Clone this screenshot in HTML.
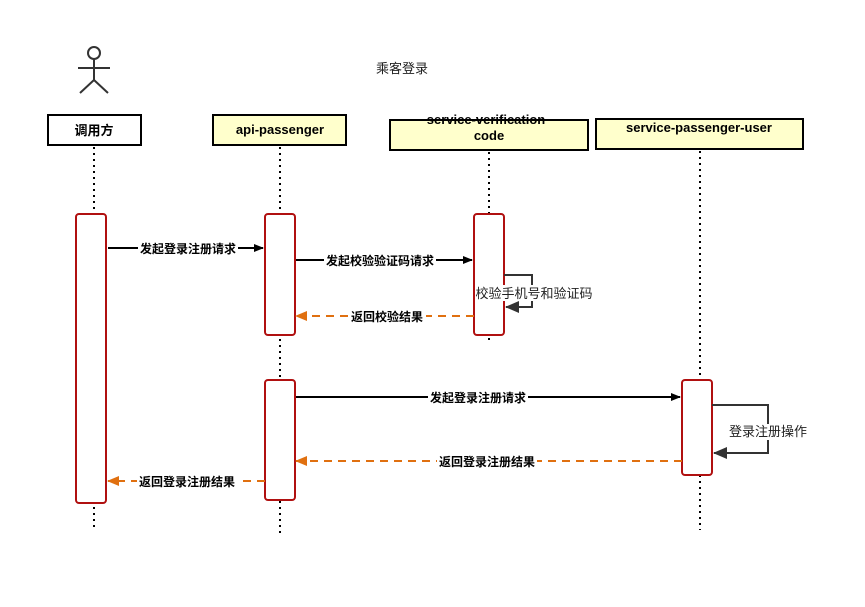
<!DOCTYPE html>
<html><head><meta charset="utf-8"><style>
body{margin:0;background:#fff}
text{font-family:"Liberation Sans","Noto Sans CJK SC",sans-serif}
</style></head><body>
<svg width="865" height="602" viewBox="0 0 865 602" xmlns="http://www.w3.org/2000/svg">
<defs>
<marker id="ab" markerWidth="10" markerHeight="8" refX="9" refY="4" orient="auto" markerUnits="userSpaceOnUse"><path d="M0,0 L10,4 L0,8 Z" fill="#000"/></marker>
<marker id="ao" markerWidth="12" markerHeight="10" refX="11" refY="5" orient="auto" markerUnits="userSpaceOnUse"><path d="M0,0 L12,5 L0,10 Z" fill="#e07010"/></marker>
<marker id="ag" markerWidth="14" markerHeight="12" refX="13" refY="6" orient="auto" markerUnits="userSpaceOnUse"><path d="M0,0 L14,6 L0,12 Z" fill="#333"/></marker>
</defs>
<text x="402" y="73" font-size="13" text-anchor="middle" fill="#222">乘客登录</text>
<g stroke="#333" stroke-width="2" fill="none">
<circle cx="94" cy="53" r="6"/>
<line x1="94" y1="59" x2="94" y2="80"/>
<line x1="78" y1="68" x2="110" y2="68"/>
<line x1="94" y1="80" x2="80" y2="93"/>
<line x1="94" y1="80" x2="108" y2="93"/>
</g>
<g stroke="#000" stroke-width="2" stroke-dasharray="2,4">
<line x1="94" y1="147" x2="94" y2="528"/>
<line x1="280" y1="147" x2="280" y2="537"/>
<line x1="489" y1="152" x2="489" y2="340"/>
<line x1="700" y1="151" x2="700" y2="530"/>
</g>
<rect x="48" y="115" width="93" height="30" fill="#fff" stroke="#000" stroke-width="2"/>
<text x="94" y="135" font-size="13" font-weight="bold" text-anchor="middle">调用方</text>
<rect x="213" y="115" width="133" height="30" fill="#ffffcc" stroke="#000" stroke-width="2"/>
<text x="280" y="134" font-size="13" font-weight="bold" text-anchor="middle">api-passenger</text>
<rect x="390" y="120" width="198" height="30" fill="#ffffcc" stroke="#000" stroke-width="2"/>
<text x="486" y="124" font-size="13" font-weight="bold" text-anchor="middle">service-verification</text>
<text x="489" y="140" font-size="13" font-weight="bold" text-anchor="middle">code</text>
<rect x="596" y="119" width="207" height="30" fill="#ffffcc" stroke="#000" stroke-width="2"/>
<text x="699" y="132" font-size="13" font-weight="bold" text-anchor="middle">service-passenger-user</text>
<g fill="#fff" stroke="#b01010" stroke-width="2">
<rect x="76" y="214" width="30" height="289" rx="3"/>
<rect x="265" y="214" width="30" height="121" rx="3"/>
<rect x="265" y="380" width="30" height="120" rx="3"/>
<rect x="474" y="214" width="30" height="121" rx="3"/>
<rect x="682" y="380" width="30" height="95" rx="3"/>
</g>
<g stroke-width="2" fill="none">
<line x1="108" y1="248" x2="263" y2="248" stroke="#000" marker-end="url(#ab)"/>
<line x1="296" y1="260" x2="472" y2="260" stroke="#000" marker-end="url(#ab)"/>
<polyline points="504,275 532,275 532,307 506,307" stroke="#333" marker-end="url(#ag)"/>
<line x1="474" y1="316" x2="296" y2="316" stroke="#e07010" stroke-dasharray="8,6" marker-end="url(#ao)"/>
<line x1="296" y1="397" x2="680" y2="397" stroke="#000" marker-end="url(#ab)"/>
<polyline points="712,405 768,405 768,453 714,453" stroke="#333" marker-end="url(#ag)"/>
<line x1="682" y1="461" x2="296" y2="461" stroke="#e07010" stroke-dasharray="8,6" marker-end="url(#ao)"/>
<line x1="265" y1="481" x2="108" y2="481" stroke="#e07010" stroke-dasharray="8,6" marker-end="url(#ao)"/>
</g>
<g font-size="12" font-weight="bold" text-anchor="middle">
<rect x="138" y="240" width="100" height="16" fill="#fff"/><text x="188" y="253">发起登录注册请求</text>
<rect x="324" y="252" width="112" height="16" fill="#fff"/><text x="380" y="265">发起校验验证码请求</text>
<rect x="350" y="308" width="76" height="16" fill="#fff"/><text x="387" y="321">返回校验结果</text>
<rect x="428" y="389" width="100" height="16" fill="#fff"/><text x="478" y="402">发起登录注册请求</text>
<rect x="437" y="453" width="100" height="16" fill="#fff"/><text x="487" y="466">返回登录注册结果</text>
<rect x="137" y="473" width="100" height="16" fill="#fff"/><text x="187" y="486">返回登录注册结果</text>
</g>
<rect x="476" y="285" width="116" height="16" fill="#fff"/>
<text x="534" y="298" font-size="13" text-anchor="middle" fill="#222">校验手机号和验证码</text>
<rect x="729" y="424" width="78" height="16" fill="#fff"/>
<text x="768" y="436" font-size="13" text-anchor="middle" fill="#222">登录注册操作</text>
</svg>
</body></html>
